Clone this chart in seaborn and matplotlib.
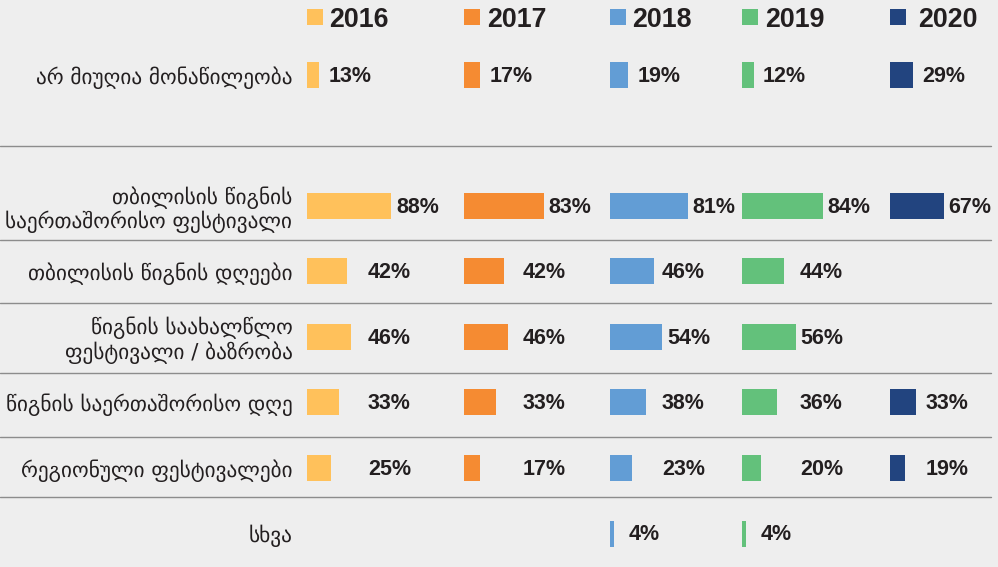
import numpy as np
import pandas as pd
import matplotlib
matplotlib.use("Agg")
import matplotlib.pyplot as plt
import matplotlib.transforms as mtransforms
from matplotlib.lines import Line2D
from matplotlib.patches import Rectangle
import seaborn as sns

# ---------------- data ----------------
years = ["2016", "2017", "2018", "2019", "2020"]
categories = [
    "არ მიუღია მონაწილეობა",
    "",
    "თბილისის წიგნის\nსაერთაშორისო ფესტივალი",
    "თბილისის წიგნის დღეები",
    "წიგნის საახალწლო\nფესტივალი / ბაზრობა",
    "წიგნის საერთაშორისო დღე",
    "რეგიონული ფესტივალები",
    "სხვა",
]
nan = np.nan
v2016 = [13, nan, 88, 42, 46, 33, 25, nan]
v2017 = [17, nan, 83, 42, 46, 33, 17, nan]
v2018 = [19, nan, 81, 46, 54, 38, 23, 4]
v2019 = [12, nan, 84, 44, 56, 36, 20, 4]
v2020 = [29, nan, 67, nan, nan, 33, 19, nan]
series = [v2016, v2017, v2018, v2019, v2020]
colors = ["#FFC15B", "#F58B32", "#629DD5", "#63C17B", "#22447F"]

# ---------------- layout ----------------
W, H = 998, 567
col_start = [307, 464, 610, 742, 890]
col_end = [464, 610, 742, 890, 998]
px_per_pct = [0.96, 0.96, 0.96, 0.96, 0.80]
label_min_px = [61, 59, 52, 58, 36]
year_text_px = [22, 23, 22, 23, 28]
row0_px, row_step_px = 75, 65.5
bg = "#EEEEEE"
txt = "#231F20"

sns.set_theme(style="white")
plt.rcParams["font.family"] = ["DejaVu Sans"]

fig = plt.figure(figsize=(W / 100, H / 100), dpi=100, facecolor=bg)

ytop = -row0_px / row_step_px
ybot = (H - row0_px) / row_step_px

axes = []
for k, yr in enumerate(years):
    left = col_start[k] / W
    width = (col_end[k] - col_start[k]) / W
    ax = fig.add_axes([left, 0, width, 1])
    ax.set_facecolor("none")
    df = pd.DataFrame({"cat": categories, "val": series[k]})
    sns.barplot(data=df, x="val", y="cat", order=categories, color=colors[k],
                saturation=1, width=26 / row_step_px, errorbar=None,
                orient="h", ax=ax, linewidth=0)
    ax.set_xlim(0, (col_end[k] - col_start[k]) / px_per_pct[k])
    ax.set_ylim(ybot, ytop)
    ax.set_xlabel("")
    ax.set_ylabel("")
    ax.set_xticks([])
    for s in ax.spines.values():
        s.set_visible(False)
    if k == 0:
        ax.tick_params(axis="y", length=0, pad=10.5)
        for lab in ax.get_yticklabels():
            lab.set_fontsize(15.3)
            lab.set_color(txt)
            lab.set_linespacing(1.1)
    else:
        ax.set_yticks([])
    # value labels
    sc = px_per_pct[k]
    last = len(categories) - 1
    for i, v in enumerate(series[k]):
        if np.isnan(v):
            continue
        if i == 0:
            xl = v + 9 / sc
        elif i == last:
            xl = v + 15 / sc
        else:
            xl = max(v + 5 / sc, label_min_px[k] / sc)
        ax.text(xl, i + 0.02, f"{int(v)}%", ha="left", va="center",
                fontsize=15.5, fontweight="bold", color=txt,
                family=["Liberation Sans", "DejaVu Sans"])
    # legend header
    fig.add_artist(Rectangle((col_start[k] / W, 1 - 25 / H), 16 / W, 16 / H,
                             transform=fig.transFigure, facecolor=colors[k],
                             edgecolor="none"))
    fig.text((col_start[k] + year_text_px[k]) / W, 1 - 20 / H, yr,
             ha="left", va="center", fontsize=19.3, fontweight="bold",
             color=txt, family=["Liberation Sans", "DejaVu Sans"])
    axes.append(ax)

# separator lines
trans = mtransforms.blended_transform_factory(fig.transFigure, axes[0].transData)
sep_rows = [1.08, 2.52, 3.48, 4.55, 5.52, 6.45]
for y in sep_rows:
    fig.add_artist(Line2D([0, 991 / W], [y, y], transform=trans,
                          color="#8C8C8C", linewidth=1.0))

fig.savefig("out.png", dpi=100, facecolor=bg)
